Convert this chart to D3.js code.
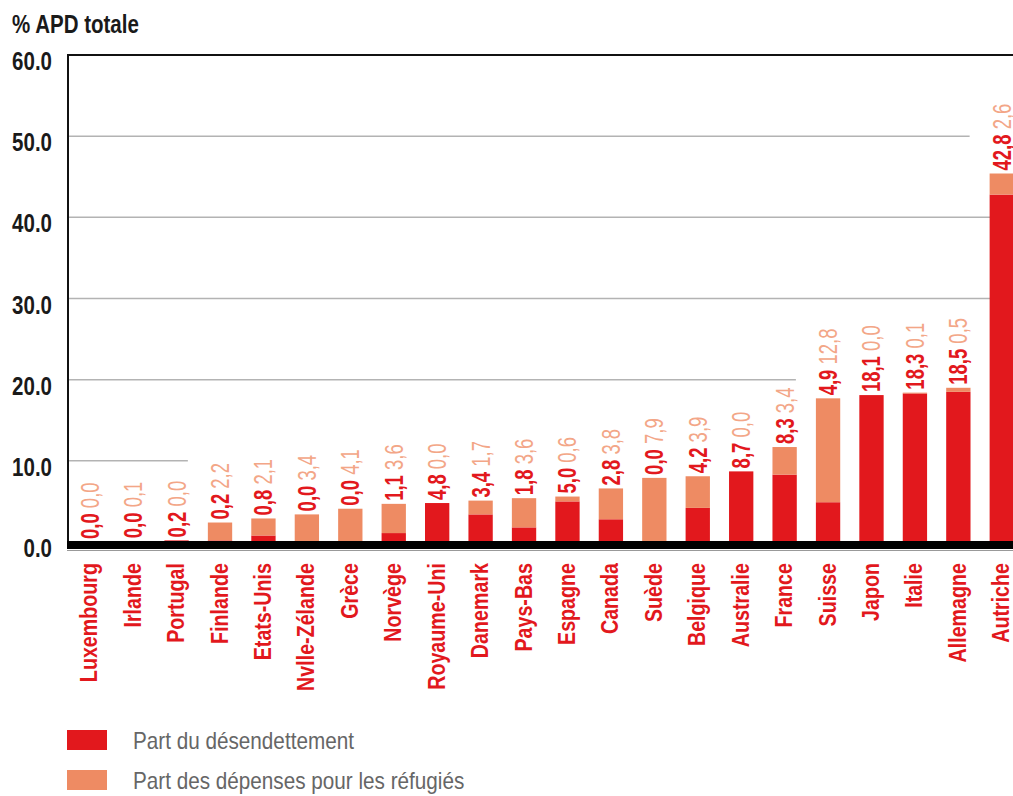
<!DOCTYPE html>
<html>
<head>
<meta charset="utf-8">
<script src="https://cdn.jsdelivr.net/npm/d3@7"></script>
<style>
  html, body { margin: 0; padding: 0; background: #fff; }
  svg { display: block; font-family: "Liberation Sans", Arial, sans-serif; }
</style>
</head>
<body>
<main></main>
<script>
var countries = ['Luxembourg', 'Irlande', 'Portugal', 'Finlande', 'Etats-Unis', 'Nvlle-Zélande',
  'Grèce', 'Norvège', 'Royaume-Uni', 'Danemark', 'Pays-Bas', 'Espagne', 'Canada', 'Suède',
  'Belgique', 'Australie', 'France', 'Suisse', 'Japon', 'Italie', 'Allemagne', 'Autriche'];

// part du désendettement (% APD totale)
var debtRelief = [0.0, 0.0, 0.2, 0.2, 0.8, 0.0, 0.0, 1.1, 4.8, 3.4, 1.8, 5.0, 2.8, 0.0,
  4.2, 8.7, 8.3, 4.9, 18.1, 18.3, 18.5, 42.8];

// part des dépenses pour les réfugiés
var refugees = [0.0, 0.1, 0.0, 2.2, 2.1, 3.4, 4.1, 3.6, 0.0, 1.7, 3.6, 0.6, 3.8, 7.9,
  3.9, 0.0, 3.4, 12.8, 0.0, 0.1, 0.5, 2.6];

var yTicks = [0, 10, 20, 30, 40, 50, 60];

// gridlines that stop before a country's value label
var gridStops = [[10, 'Finlande'], [20, 'Suisse'], [50, 'Autriche']];

var seriesNames = ['Part du désendettement', 'Part des dépenses pour les réfugiés'];

var red = '#e2181d';
var orange = '#ee8b63';
var paleOrange = '#f3a687';

var fmt = function (v) { return d3.format('.1f')(v).replace('.', ','); };

var W = 1013, H = 796;
var svg = d3.select('main').append('svg')
  .attr('width', W)
  .attr('height', H);

var x = d3.scaleBand()
  .domain(countries)
  .range([68, 1023.5])
  .paddingInner(0.44)
  .paddingOuter(0.22);

var y = d3.scaleLinear()
  .domain([0, 60])
  .range([542, 55]);

var rows = countries.map(function (c, i) {
  return {name: c, a: debtRelief[i], b: refugees[i]};
});

// gridlines
var stopFor = {};
gridStops.forEach(function (g) { stopFor[g[0]] = g[1]; });

svg.append('g').selectAll('line')
  .data(yTicks.filter(function (t) { return t > 0 && t < 60; }))
  .enter().append('line')
  .attr('x1', 68)
  .attr('x2', function (t) { return stopFor[t] ? x(stopFor[t]) - 20 : W; })
  .attr('y1', function (t) { return y(t); })
  .attr('y2', function (t) { return y(t); })
  .style('stroke', '#b3b3b3')
  .style('stroke-width', 1.5);

// bars
var bars = svg.append('g').selectAll('g')
  .data(rows)
  .enter().append('g');

bars.append('rect')
  .attr('x', function (d) { return x(d.name); })
  .attr('width', x.bandwidth())
  .attr('y', function (d) { return y(d.a); })
  .attr('height', function (d) { return y(0) - y(d.a); })
  .style('fill', red);

bars.append('rect')
  .attr('x', function (d) { return x(d.name); })
  .attr('width', x.bandwidth())
  .attr('y', function (d) { return y(d.a + d.b); })
  .attr('height', function (d) { return y(d.a) - y(d.a + d.b); })
  .style('fill', orange);

// value labels, rotated
var labels = bars.append('text')
  .attr('transform', function (d) {
    var cx = x(d.name) + x.bandwidth() / 2 + 9;
    return 'translate(' + cx + ',' + (y(d.a + d.b) - 3) + ') rotate(-90) scale(0.74,1)';
  })
  .style('font-size', '25px');

labels.append('tspan')
  .style('font-weight', 'bold')
  .style('fill', red)
  .text(function (d) { return fmt(d.a); });

labels.append('tspan')
  .style('fill', paleOrange)
  .text(function (d) { return ' ' + fmt(d.b); });

// frame: top and left lines, thick baseline
svg.append('line')
  .attr('x1', 68).attr('x2', W)
  .attr('y1', y(60)).attr('y2', y(60))
  .style('stroke', '#111').style('stroke-width', 2);

svg.append('line')
  .attr('x1', 68).attr('x2', 68)
  .attr('y1', y(60) - 1).attr('y2', y(0))
  .style('stroke', '#111').style('stroke-width', 2);

svg.append('rect')
  .attr('x', 67).attr('y', y(0) - 1)
  .attr('width', W - 67).attr('height', 8)
  .style('fill', '#000');

svg.append('line')
  .attr('x1', 67).attr('x2', W)
  .attr('y1', y(0) + 8.5).attr('y2', y(0) + 8.5)
  .style('stroke', '#999').style('stroke-width', 1);

// y tick labels
svg.append('g').selectAll('text')
  .data(yTicks)
  .enter().append('text')
  .attr('transform', function (t) { return 'translate(52,' + (y(t) + 15) + ') scale(0.82,1)'; })
  .attr('text-anchor', 'end')
  .style('font-size', '25px')
  .style('font-weight', 'bold')
  .style('fill', '#1a1a1a')
  .text(function (t) { return d3.format('.1f')(t); });

svg.append('text')
  .attr('transform', 'translate(12,33) scale(0.82,1)')
  .style('font-size', '25px')
  .style('font-weight', 'bold')
  .style('fill', '#1a1a1a')
  .text('% APD totale');

// country labels
svg.append('g').selectAll('text')
  .data(countries)
  .enter().append('text')
  .attr('transform', function (c) {
    return 'translate(' + (x(c) + x.bandwidth() / 2 + 7.5) + ',563) rotate(-90) scale(0.82,1)';
  })
  .attr('text-anchor', 'end')
  .style('font-size', '24px')
  .style('font-weight', 'bold')
  .style('fill', red)
  .text(function (c) { return c; });

// legend
var legend = svg.append('g').selectAll('g')
  .data(seriesNames)
  .enter().append('g')
  .attr('transform', function (d, i) { return 'translate(67,' + (730 + i * 40) + ')'; });

legend.append('rect')
  .attr('width', 40)
  .attr('height', 20)
  .style('fill', function (d, i) { return i === 0 ? red : orange; });

legend.append('text')
  .attr('transform', 'translate(66,19) scale(0.9,1)')
  .style('font-size', '23px')
  .style('fill', '#666')
  .text(function (d) { return d; });
</script>
</body>
</html>
